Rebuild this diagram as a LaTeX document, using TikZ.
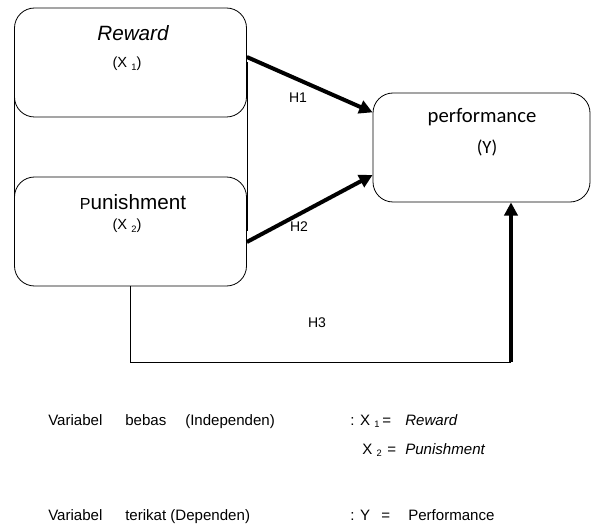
\documentclass[tikz,border=0pt]{standalone}
\usepackage{fontspec}
\setmainfont{Liberation Sans}
\newfontfamily\calfont{Carlito}
\usetikzlibrary{arrows.meta,calc,positioning}
\newcommand{\lowidx}[1]{\raisebox{-0.35ex}{\fontsize{7}{8}\selectfont #1}}

\begin{document}
\begin{tikzpicture}[x=0.75pt,y=-0.75pt,>=Stealth,
  box/.style={draw,rounded corners=15pt,line width=0.6pt,inner sep=0pt,
    minimum width=174pt,minimum height=81.75pt},
  hyp/.style={line width=3pt,-{Triangle[length=10pt,width=10pt]}},
  big/.style={font=\fontsize{15.5}{18}\selectfont},
  small/.style={font=\fontsize{11}{13}\selectfont},
  hlabel/.style={font=\fontsize{10.5}{12}\selectfont},
  legend/.style={anchor=base west,inner sep=0pt,font=\fontsize{11.3}{13}\selectfont},
  legendit/.style={legend,font=\fontsize{11.3}{13}\selectfont\itshape}]
\useasboundingbox (0,0) rectangle (593,524);
% --- X1 and X2
\node[box] (reward) at (130.5,62.5) {};
\node[box] (pun) at (130.5,231.5) {};
\draw[line width=0.6pt] (reward.west) -- (pun.west) (reward.east) -- (pun.east);
\node[font=\fontsize{15.5}{18}\selectfont\itshape] (rewardtxt) at (133,33) {Reward};
\node[small] (x1) at (127,64) {(X \lowidx{1})};
\node[big] (puntxt) at (133,202) {{\fontsize{12}{14}\selectfont P}unishment};
\node[small] (x2) at (127,226) {(X \lowidx{2})};
% --- Y
\node[box,minimum width=162.75pt] (perf) at (481.5,147.5) {};
\node[font=\calfont\fontsize{15.5}{18}\selectfont] (perftxt) at (482,117) {performance};
\node[font=\calfont\fontsize{14}{16}\selectfont] (ytxt) at (487,148) {(Y)};
% --- hypotheses
\draw[hyp] ($(reward.east)+(0,-5.5)$) -- ($(perf.north west)!0.18!(perf.south west)$);
\draw[hyp] ($(pun.east)+(0,10.5)$) -- ($(perf.north west)!0.75!(perf.south west)$);
\coordinate (h3end) at (511,362);
\draw[line width=0.6pt] (pun.south) |- (h3end);
\draw[hyp] (h3end) -- (perf.south -| h3end);
\node[hlabel] (h1) at (298,98) {H1};
\node[hlabel] (h2) at (299,227) {H2};
\node[hlabel] (h3) at (317,323) {H3};
% --- legend
\node[legend] (v1) at (48,425) {Variabel};
\node[legend] (b1) at (125,425) {bebas};
\node[legend] (i1) at (185,425) {(Independen)};
\node[legend] (x1sym) at (350,425) {: X \lowidx{1}};
\node[legend] (x1eq) at (382,425) {=};
\node[legendit] (x1val) at (405,425) {Reward};
\node[legend] (x2sym) at (362,454) {X \lowidx{2}};
\node[legend] (x2eq) at (387,454) {=};
\node[legendit] (x2val) at (405,454) {Punishment};
\node[legend] (v2) at (48,520) {Variabel};
\node[legend] (t2) at (125,520) {terikat (Dependen)};
\node[legend] (ysym) at (350,520) {: Y};
\node[legend] (yeq) at (381,520) {=};
\node[legend] (yval) at (408,520) {Performance};
\end{tikzpicture}
\end{document}
